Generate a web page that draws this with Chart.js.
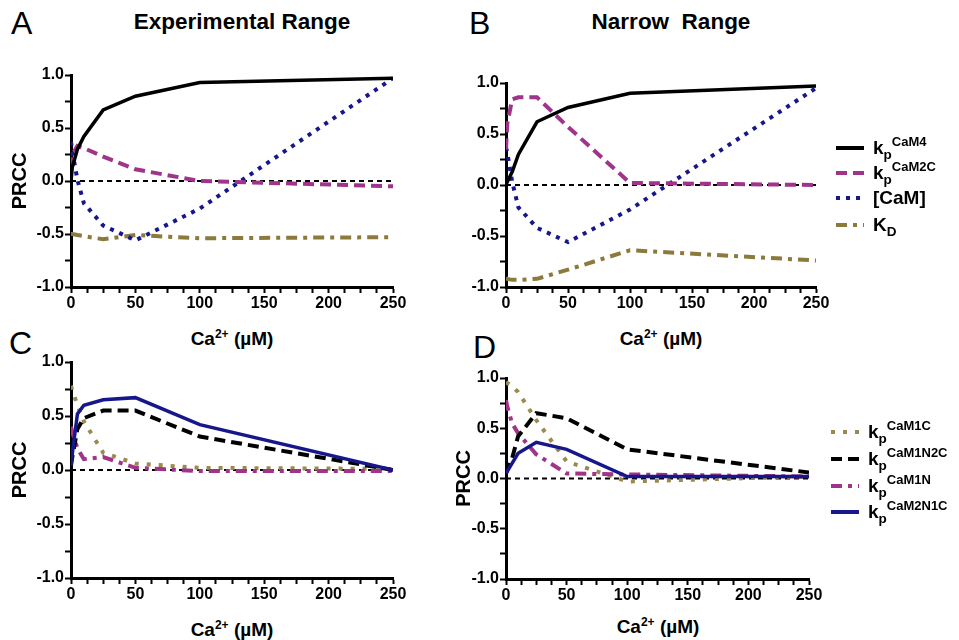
<!DOCTYPE html>
<html>
<head>
<meta charset="utf-8">
<script src="https://cdn.jsdelivr.net/npm/chart.js@4.4.0/dist/chart.umd.min.js"></script>
<style>
  body { margin:0; background:#fff; font-family:"Liberation Sans", Arial, sans-serif; color:#000; }
  #fig { position:relative; width:959px; height:640px; overflow:hidden; }
  canvas { position:absolute; }
  .letter { position:absolute; font-size:32px; line-height:1; font-weight:normal; }
  .title { position:absolute; font-size:22.5px; line-height:26px; font-weight:bold; white-space:pre; transform:translateX(-50%); }
  .xt { position:absolute; font-size:19px; line-height:22px; font-weight:bold; white-space:nowrap; transform:translateX(-50%); }
  .xt sup { font-size:12px; line-height:0; vertical-align:7px; }
  .leg { position:absolute; font-weight:bold; }
  .it { position:absolute; left:0; height:20px; display:flex; align-items:center; white-space:nowrap; }
  .it svg { flex:none; }
  .it .k { font-size:19px; margin-left:9px; }
  .it .sb { font-size:13.5px; position:relative; top:6px; }
  .it .sp { font-size:13px; position:relative; top:-7px; }
  .it .big { font-size:19px; margin-left:9px; }
</style>
</head>
<body>
<div id="fig">
  <div class="letter" style="left:11px;top:7px">A</div>
  <div class="letter" style="left:469px;top:7px">B</div>
  <div class="letter" style="left:9px;top:327px">C</div>
  <div class="letter" style="left:473px;top:331px">D</div>

  <div class="title" style="left:242px;top:9px">Experimental Range</div>
  <div class="title" style="left:671px;top:9px">Narrow  Range</div>

  <canvas id="chartA" width="420" height="250" style="left:0;top:60px"></canvas>
  <canvas id="chartB" width="400" height="250" style="left:440px;top:60px"></canvas>
  <canvas id="chartC" width="420" height="250" style="left:0;top:350px"></canvas>
  <canvas id="chartD" width="400" height="252" style="left:440px;top:350px"></canvas>

  <div class="xt" style="left:232px;top:328px">Ca<sup>2+</sup> (µM)</div>
  <div class="xt" style="left:661px;top:328px">Ca<sup>2+</sup> (µM)</div>
  <div class="xt" style="left:232px;top:619px">Ca<sup>2+</sup> (µM)</div>
  <div class="xt" style="left:658px;top:616px">Ca<sup>2+</sup> (µM)</div>

  <div class="leg" id="leg1" style="left:836px;top:0"></div>
  <div class="leg" id="leg2" style="left:831px;top:0"></div>
</div>

<script>
// Ca2+ concentrations (µM) at which PRCC was computed
const caX = [0, 1, 5, 10, 25, 50, 100, 250];
const zeroX = [0, 250];
const zeroY = [0, 0];

// panel A - experimental range
const aCaM4  = [0.00, 0.13, 0.30, 0.42, 0.67, 0.80, 0.93, 0.97];
const aCaM2C = [0.12, 0.25, 0.33, 0.31, 0.23, 0.11, 0.00, -0.05];
const aCaM   = [0.37, 0.28, 0.01, -0.21, -0.42, -0.56, -0.26, 0.97];
const aKD    = [-0.50, -0.50, -0.51, -0.52, -0.55, -0.51, -0.54, -0.53];

// panel B - narrow range
const bCaM4  = [0.00, 0.03, 0.13, 0.30, 0.62, 0.76, 0.90, 0.97];
const bCaM2C = [0.35, 0.60, 0.84, 0.86, 0.86, 0.57, 0.02, 0.00];
const bCaM   = [0.37, 0.32, 0.03, -0.22, -0.42, -0.56, -0.24, 0.95];
const bKD    = [-0.91, -0.92, -0.93, -0.93, -0.92, -0.83, -0.64, -0.74];

// panel C
const cCaM1C   = [0.78, 0.74, 0.60, 0.45, 0.16, 0.06, 0.02, 0.01];
const cCaM1N2C = [0.04, 0.12, 0.38, 0.48, 0.55, 0.55, 0.31, 0.00];
const cCaM1N   = [0.40, 0.35, 0.20, 0.10, 0.12, 0.02, -0.01, -0.01];
const cCaM2N1C = [0.04, 0.15, 0.52, 0.60, 0.65, 0.67, 0.42, 0.00];

// panel D
const dCaM1C   = [0.96, 0.95, 0.92, 0.86, 0.58, 0.17, -0.03, 0.02];
const dCaM1N2C = [0.05, 0.08, 0.20, 0.42, 0.65, 0.60, 0.29, 0.06];
const dCaM1N   = [0.78, 0.72, 0.55, 0.45, 0.24, 0.05, 0.04, 0.02];
const dCaM2N1C = [0.05, 0.07, 0.15, 0.25, 0.36, 0.29, 0.02, 0.02];

const BLACK = '#000000', MAGENTA = '#a0338a', NAVY = '#17178c', OLIVE = '#8b7a3c', OLIVE2 = '#9a8a4e';

const SOLID = [], DASH = [11, 6], DOT = [4, 6], DASHDOT = [11, 6, 4, 6], DOT2 = [4, 8];

const FONT = "'Liberation Sans', Arial, sans-serif";

function pts(xs, ys){ return xs.map((x, i) => ({x: x, y: ys[i]})); }

function ds(ys, color, dash, width){
  return { data: pts(caX, ys), borderColor: color, borderDash: dash, borderWidth: width,
           borderCapStyle: 'butt', pointRadius: 0, tension: 0, fill: false };
}

function zeroLine(){
  return { data: pts(zeroX, zeroY), borderColor: BLACK, borderDash: [5, 4], borderWidth: 2,
           pointRadius: 0, fill: false };
}

function makePanel(id, datasets, geo){
  new Chart(document.getElementById(id), {
    type: 'line',
    data: { datasets: datasets.concat([zeroLine()]) },
    options: {
      responsive: false, animation: false,
      layout: { padding: { top: geo.top, right: geo.right, left: 0, bottom: 0 } },
      plugins: { legend: { display: false }, tooltip: { enabled: false } },
      scales: {
        x: {
          type: 'linear', min: 0, max: 250,
          afterFit: s => { s.height = geo.xh; },
          border: { display: true, color: BLACK, width: 3 },
          grid: { drawOnChartArea: false, drawTicks: true, tickLength: 6, tickWidth: 2, tickColor: BLACK },
          ticks: { stepSize: 12.5, autoSkip: false, maxRotation: 0, padding: 1, color: BLACK,
                   font: { family: FONT, size: 16, weight: 'bold' },
                   callback: v => (v % 50 === 0 ? String(v) : '') }
        },
        y: {
          min: -1, max: 1,
          afterFit: s => { s.width = geo.yw; },
          border: { display: true, color: BLACK, width: 3 },
          grid: { drawOnChartArea: false, drawTicks: true, tickLength: 6, tickWidth: 2, tickColor: BLACK },
          ticks: { stepSize: 0.25, autoSkip: false, padding: 1, color: BLACK,
                   font: { family: FONT, size: 16, weight: 'bold' },
                   callback: v => (Math.abs(v * 2 - Math.round(v * 2)) < 1e-9 ? v.toFixed(1) : '') },
          title: { display: geo.ytitle, text: 'PRCC', color: BLACK,
                   font: { family: FONT, size: 20, weight: 'bold' }, padding: { top: geo.tpad, bottom: 0 } }
        }
      }
    }
  });
}

makePanel('chartA', [
  ds(aCaM4, BLACK, SOLID, 3.5),
  ds(aCaM2C, MAGENTA, DASH, 4),
  ds(aCaM, NAVY, DOT, 4),
  ds(aKD, OLIVE, DASHDOT, 4)
], { top: 15, right: 27, xh: 23, yw: 71, ytitle: true, tpad: 8 });

makePanel('chartB', [
  ds(bCaM4, BLACK, SOLID, 3.5),
  ds(bCaM2C, MAGENTA, DASH, 4),
  ds(bCaM, NAVY, DOT, 4),
  ds(bKD, OLIVE, DASHDOT, 4)
], { top: 23, right: 24, xh: 23, yw: 66, ytitle: false, tpad: 8 });

makePanel('chartC', [
  ds(cCaM2N1C, NAVY, SOLID, 3.5),
  ds(cCaM1N2C, BLACK, DASH, 4),
  ds(cCaM1N, MAGENTA, DASHDOT, 4),
  ds(cCaM1C, OLIVE2, DOT2, 4)
], { top: 12, right: 27, xh: 22, yw: 71, ytitle: true, tpad: 8 });

makePanel('chartD', [
  ds(dCaM2N1C, NAVY, SOLID, 3.5),
  ds(dCaM1N2C, BLACK, DASH, 4),
  ds(dCaM1N, MAGENTA, DASHDOT, 4),
  ds(dCaM1C, OLIVE2, DOT2, 4)
], { top: 28, right: 31, xh: 23, yw: 66, ytitle: true, tpad: 12 });

// legends (HTML, for the sub/superscripted labels)
const leg1 = [
  { color: BLACK, dash: SOLID, name: 'k', sub: 'p', sup: 'CaM4', y: 148 },
  { color: MAGENTA, dash: DASH, name: 'k', sub: 'p', sup: 'CaM2C', y: 173 },
  { color: NAVY, dash: DOT, name: '[CaM]', y: 198 },
  { color: OLIVE, dash: DASHDOT, name: 'K', sub: 'D', y: 225 }
];
const leg2 = [
  { color: OLIVE2, dash: DOT2, name: 'k', sub: 'p', sup: 'CaM1C', y: 432 },
  { color: BLACK, dash: DASH, name: 'k', sub: 'p', sup: 'CaM1N2C', y: 459 },
  { color: MAGENTA, dash: DASHDOT, name: 'k', sub: 'p', sup: 'CaM1N', y: 486 },
  { color: NAVY, dash: SOLID, name: 'k', sub: 'p', sup: 'CaM2N1C', y: 512 }
];

function buildLegend(el, items){
  el.innerHTML = items.map(it => {
    const da = it.dash.length ? ` stroke-dasharray="${it.dash.join(' ')}"` : '';
    const txt = it.sub
      ? `<span class="k">${it.name}</span><span class="sb">${it.sub}</span>` + (it.sup ? `<span class="sp">${it.sup}</span>` : '')
      : `<span class="big">${it.name}</span>`;
    return `<div class="it" style="top:${it.y - 10}px"><svg width="28" height="8"><line x1="0" y1="4" x2="28" y2="4" stroke="${it.color}" stroke-width="4"${da}/></svg>${txt}</div>`;
  }).join('');
}
buildLegend(document.getElementById('leg1'), leg1);
buildLegend(document.getElementById('leg2'), leg2);
</script>
</body>
</html>
